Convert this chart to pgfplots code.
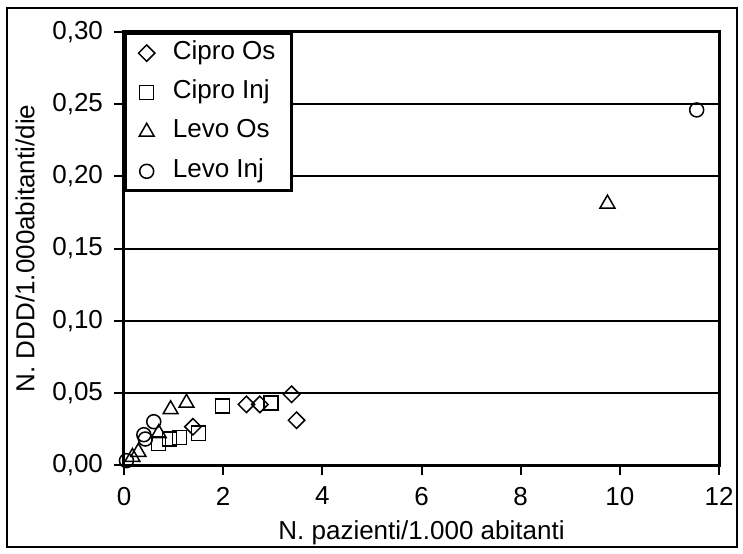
\documentclass[border=0pt]{standalone}
\usepackage{fontspec}
\setmainfont{Liberation Sans}
\usepackage{pgfplots}
\pgfplotsset{compat=1.18}
\begin{document}
\fontsize{13}{15}\selectfont
\begin{tikzpicture}[font=\fontsize{13}{15}\selectfont]
\begin{axis}[
    name=ax,
    scale only axis,
    width=297.5pt,
    height=216.5pt,
    xmin=0, xmax=12,
    ymin=0, ymax=0.30,
    xtick={0,2,...,12},
    ytick={0,0.05,0.10,0.15,0.20,0.25,0.30},
    axis line style={line width=1.5pt},
    xtick align=outside,
    ytick align=outside,
    tick pos=left,
    major tick length=5pt,
    major tick style={draw=black, line width=1pt, solid},
    ymajorgrids=true,
    major grid style={line width=1pt, black},
    /pgf/number format/assume math mode=true,
    tick label style={font=\fontsize{13}{15}\selectfont},
    label style={font=\fontsize{13}{15}\selectfont},
    yticklabel style={xshift=-1pt, /pgf/number format/.cd, fixed, fixed zerofill, precision=2, use comma},
    xticklabel style={yshift=-1.5pt, /pgf/number format/.cd, fixed},
    xlabel={N. pazienti/1.000 abitanti},
    ylabel={N. DDD/1.000abitanti/die},
    xlabel style={yshift=1.5pt},
    ylabel style={yshift=0pt},
    legend cell align={left},
    legend style={
        at={(0,1)}, anchor=north west,
        draw=black, line width=1.5pt,
        fill=white,
        font=\fontsize{13}{15}\selectfont,
        row sep=6.7pt,
        inner xsep=6.5pt, inner ysep=3.3pt,
        nodes={text height=9.5pt, text depth=3.5pt, inner ysep=0pt, inner xsep=1.5pt},
        /tikz/every odd column/.append style={column sep=7.5pt},
    },
]
% Cipro Os
\addplot[only marks, black, mark=square, mark size=2.9pt, mark options={rotate=45, solid, line width=0.75pt}]
coordinates {
(1.39,0.0265) (2.47,0.042) (2.74,0.042) (3.38,0.049) (3.48,0.031)
};
\addlegendentry{Cipro Os}
% Cipro Inj
\addplot[only marks, black, mark=square, mark size=3.5pt, mark options={solid, line width=0.75pt}]
coordinates {
(0.70,0.015) (0.92,0.018) (1.12,0.019) (1.50,0.022) (1.99,0.041) (2.96,0.043)
};
\addlegendentry{Cipro Inj}
% Levo Os
\addplot[only marks, black, mark=triangle, mark size=4.3pt, mark options={solid, line width=0.75pt}]
coordinates {
(0.17,0.0055) (0.29,0.009) (0.70,0.022) (0.94,0.0385) (1.26,0.043) (9.75,0.181)
};
\addlegendentry{Levo Os}
% Levo Inj
\addplot[only marks, black, mark=o, mark size=3.5pt, mark options={solid, line width=0.75pt}]
coordinates {
(0.05,0.003) (0.40,0.021) (0.43,0.018) (0.60,0.030) (11.55,0.246)
};
\addlegendentry{Levo Inj}
\end{axis}
\draw[line width=1.2pt] ([shift={(-58.5pt,-41pt)}]ax.south west) rectangle ([shift={(9pt,12pt)}]ax.north east);
\path ([shift={(-62pt,-43pt)}]ax.south west) rectangle ([shift={(12pt,16pt)}]ax.north east);
\end{tikzpicture}
\end{document}
